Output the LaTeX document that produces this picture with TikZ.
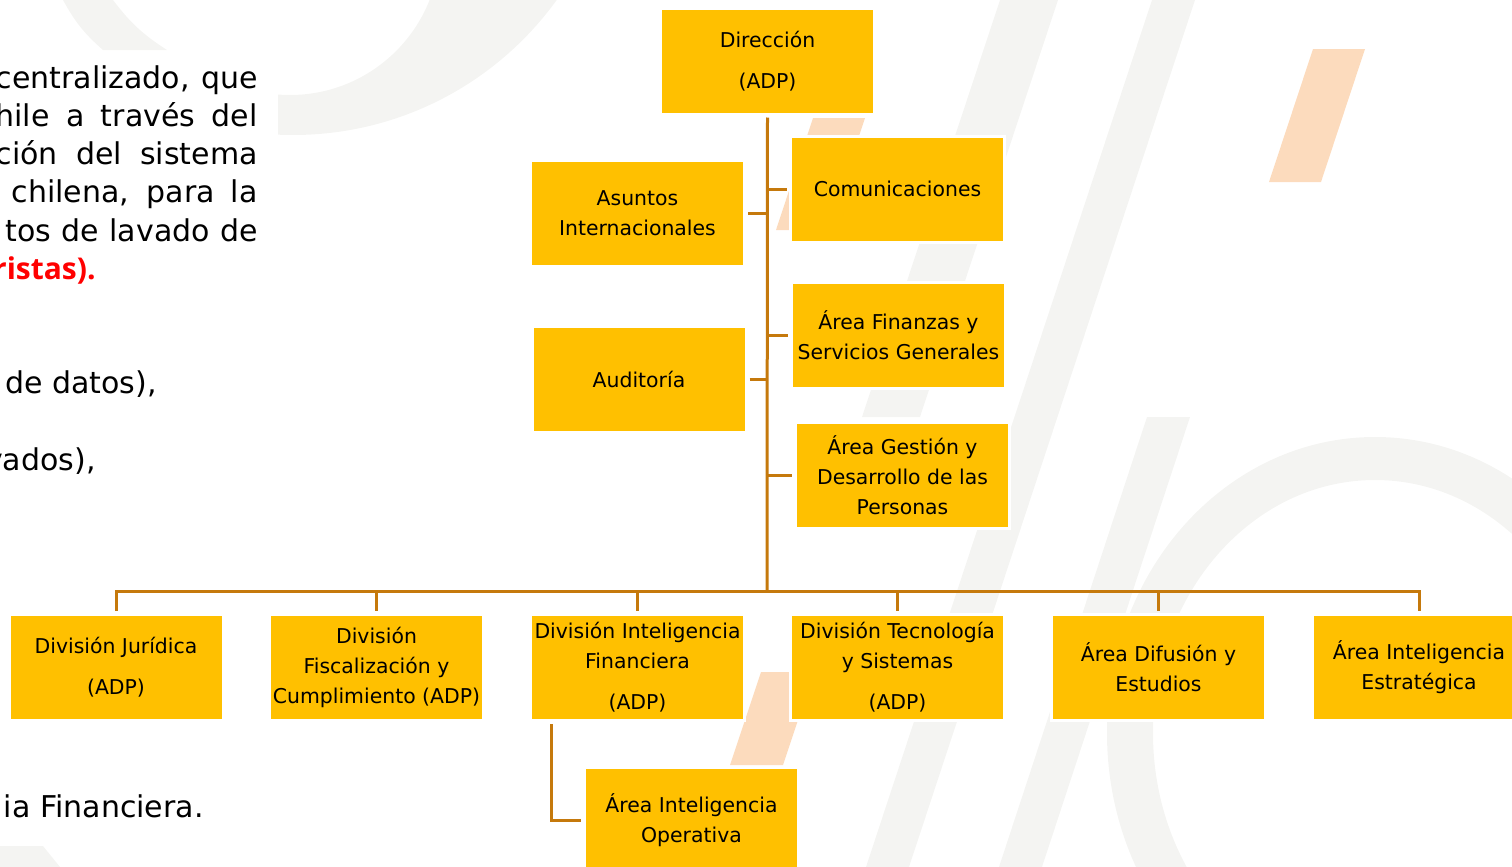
\documentclass[tikz,border=0pt]{standalone}
\usepackage{fontspec}
\setmainfont{DejaVu Sans}
\newfontfamily\negrita{Open Sans}
\usetikzlibrary{calc}
\definecolor{oro}{RGB}{255,192,0}
\definecolor{cafe}{RGB}{197,121,12}
\definecolor{gris}{RGB}{244,244,242}
\definecolor{durazno}{RGB}{252,219,189}
\tikzset{
	caja/.style={fill=oro, draw=white, line width=1.5pt, minimum width=107pt, minimum height=53pt, inner sep=0pt, outer sep=1.75pt, align=center, font=\fontsize{10.2}{15}\selectfont},
	linea/.style={draw=cafe, line width=1.5pt},
	texto/.style={anchor=base east, inner sep=0pt, font=\fontsize{15}{19}\selectfont},
}
\newcommand{\renglon}[1]{\makebox[131pt][s]{#1}}

\begin{document}
\begin{tikzpicture}[x=0.5pt, y=-0.5pt]
		%%%%% START %%%%%
		\useasboundingbox (0,0) rectangle (1512,867);
		\clip (0,0) rectangle (1512,867);
		
		% fondo
		\fill[gris] (1000,0) -- (1058,0) -- (920,417) -- (862,417) -- cycle;
		\fill[gris] (1152,0) -- (1195,0) -- (909,867) -- (866,867) -- cycle;
		\fill[gris] (1147,417) -- (1190,417) -- (1042,867) -- (999,867) -- cycle;
		\fill[gris, even odd rule] (1375,733) ellipse[x radius=134pt, y radius=148pt] (1375,733) ellipse[x radius=111pt, y radius=126.5pt];
		\begin{scope}
			\clip (278,0) rectangle (700,300);
			\fill[gris, even odd rule] (293,-190) circle[radius=162.5pt] (290,-55) circle[radius=75pt];
		\end{scope}
		\fill[gris] (63,0) -- (113,0) to[bend right=10] (167,50) -- (103,50) to[bend left=10] cycle;
		\fill[gris] (0,846) -- (43,846) -- (60,867) -- (0,867) -- cycle;
		
		\fill[durazno] (1313,49) -- (1365,49) -- (1321,182) -- (1269,182) -- cycle;
		\fill[durazno] (813,118) -- (865,118) -- (828,230) -- (776,230) -- cycle;
		\fill[durazno] (761,672) -- (814,672) -- (783,765) -- (730,765) -- cycle;
		
		% texto de la izquierda
		\node[texto] (t1) at (258,88) {\renglon{centralizado, que}};
		\node[texto] (t2) at (258,126) {\renglon{hile a través del}};
		\node[texto] (t3) at (258,164) {\renglon{ción del sistema}};
		\node[texto] (t4) at (258,202) {\renglon{\ chilena, para la}};
		\node[texto] (t5) at (258,241) {\renglon{\ tos de lavado de}};
		\node[texto, text=red] (t6) at (96,279) {\negrita\bfseries ristas).};
		\node[texto] (t7) at (157,393) {de datos),};
		\node[texto] (t8) at (96,470) {vados),};
		\node[texto] (t9) at (204,817) {ia Financiera.};
		
		% cajas
		\node[caja] (dir) at (767.5,61) {Dirección\\[5.5pt](ADP)};
		\node[caja] (asu) at (637.5,213.5) {Asuntos\\Internacionales};
		\node[caja] (com) at (897.5,189) {Comunicaciones};
		\node[caja] (fin) at (898.5,335) {Área Finanzas y\\Servicios Generales};
		\node[caja] (aud) at (639,379) {Auditoría};
		\node[caja] (ges) at (902.5,475.5) {Área Gestión y\\Desarrollo de las\\Personas};
		
		\node[caja] (jur) at (116,667.5) {División Jurídica\\[5.5pt](ADP)};
		\node[caja] (fis) at (376.5,667.5) {División\\Fiscalización y\\Cumplimiento (ADP)};
		\node[caja] (dif) at (637.5,667.5) {División Inteligencia\\Financiera\\[5.5pt](ADP)};
		\node[caja] (tec) at (897.5,667.5) {División Tecnología\\y Sistemas\\[5.5pt](ADP)};
		\node[caja] (dye) at (1158.5,667.5) {Área Difusión y\\Estudios};
		\node[caja] (est) at (1419,667.5) {Área Inteligencia\\Estratégica};
		\node[caja] (ope) at (691.5,820.5) {Área Inteligencia\\Operativa};
		
		% lineas
		\coordinate (bus) at (767,591);
		\draw[linea] (dir.south) -- (bus);
		\draw[linea] (jur.north) |- (bus) -| (est.north);
		\draw[linea] (fis.north |- bus) -- (fis.north);
		\draw[linea] (dif.north |- bus) -- (dif.north);
		\draw[linea] (tec.north |- bus) -- (tec.north);
		\draw[linea] (dye.north |- bus) -- (dye.north);
		
		\draw[linea] (asu.east) -- (asu.east -| bus);
		\draw[linea] (aud.east) -- (aud.east -| bus);
		\draw[linea] (com.west -| bus) -- (com.west);
		\draw[linea] (fin.west -| bus) -- (fin.west);
		\draw[linea] (ges.west -| bus) -- (ges.west);
		
		\draw[linea] ([xshift=12pt]dif.south west) |- (ope.west);
		
		%%%%% END %%%%%
	\end{tikzpicture}
\end{document}
